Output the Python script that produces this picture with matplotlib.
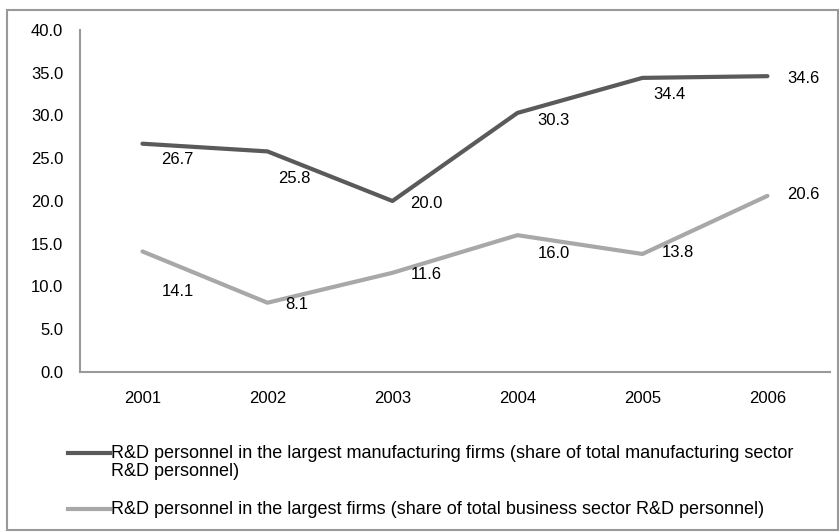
import matplotlib.pyplot as plt
from matplotlib.patches import Rectangle

years = ['2001', '2002', '2003', '2004', '2005', '2006']
manuf = [26.7, 25.8, 20.0, 30.3, 34.4, 34.6]
business = [14.1, 8.1, 11.6, 16.0, 13.8, 20.6]
label_manuf = 'R&D personnel in the largest manufacturing firms (share of total manufacturing sector\nR&D personnel)'
label_business = 'R&D personnel in the largest firms (share of total business sector R&D personnel)'

# where the value labels sit relative to their point (pixels, right / down)
off_manuf = [(35, 16), (27, 27), (34, 3), (36, 8), (27, 17), (36, 2)]
off_business = [(35, 40), (29, 2), (34, 2), (36, 18), (35, -1), (36, -1)]

plt.rcParams['font.family'] = ['Liberation Sans', 'DejaVu Sans']

fig = plt.figure(figsize=(8.4, 5.32), dpi=100)
ax = fig.add_axes([0.0952, 0.3008, 0.8928, 0.6428])

x = list(range(len(years)))
dark = '#5a5a5a'
light = '#a8a8a8'
ax.plot(x, manuf, color=dark, lw=3, solid_capstyle='round')
ax.plot(x, business, color=light, lw=3, solid_capstyle='round')

px = 72 / 100
for vals, offs in [(manuf, off_manuf), (business, off_business)]:
    for i, v in enumerate(vals):
        dx, dy = offs[i]
        ax.annotate(f'{v:.1f}', (i, v), xytext=(dx * px, -dy * px), textcoords='offset points',
                    ha='center', va='center', fontsize=12)

ax.set_xlim(-0.5, len(x) - 0.5)
ax.set_ylim(0, 40)
ax.set_yticks([0, 5, 10, 15, 20, 25, 30, 35, 40])
ax.set_yticklabels([f'{t:.1f}' for t in ax.get_yticks()])
ax.set_xticks(x)
ax.set_xticklabels(years)
ax.tick_params(length=0, labelsize=12)
ax.tick_params(axis='x', pad=14)
ax.tick_params(axis='y', pad=12)
for s in ['top', 'right']:
    ax.spines[s].set_visible(False)
for s in ['left', 'bottom']:
    ax.spines[s].set_color('#999999')
    ax.spines[s].set_linewidth(1.5)

# legend drawn by hand under the axes
fig.add_artist(plt.Line2D([68 / 840, 110 / 840], [1 - 453 / 532] * 2, color=dark, lw=3))
fig.text(111 / 840, 1 - 453 / 532, label_manuf.split('\n')[0], fontsize=13, va='center')
fig.text(111 / 840, 1 - 472 / 532, label_manuf.split('\n')[1], fontsize=13, va='center')
fig.add_artist(plt.Line2D([68 / 840, 110 / 840], [1 - 509 / 532] * 2, color=light, lw=3))
fig.text(111 / 840, 1 - 509 / 532, label_business, fontsize=13, va='center')

fig.add_artist(Rectangle((7 / 840, 2 / 532), 831 / 840, 520 / 532, transform=fig.transFigure,
                         fill=False, edgecolor='#999999', lw=1.5))

fig.savefig('out.png', dpi=100)
